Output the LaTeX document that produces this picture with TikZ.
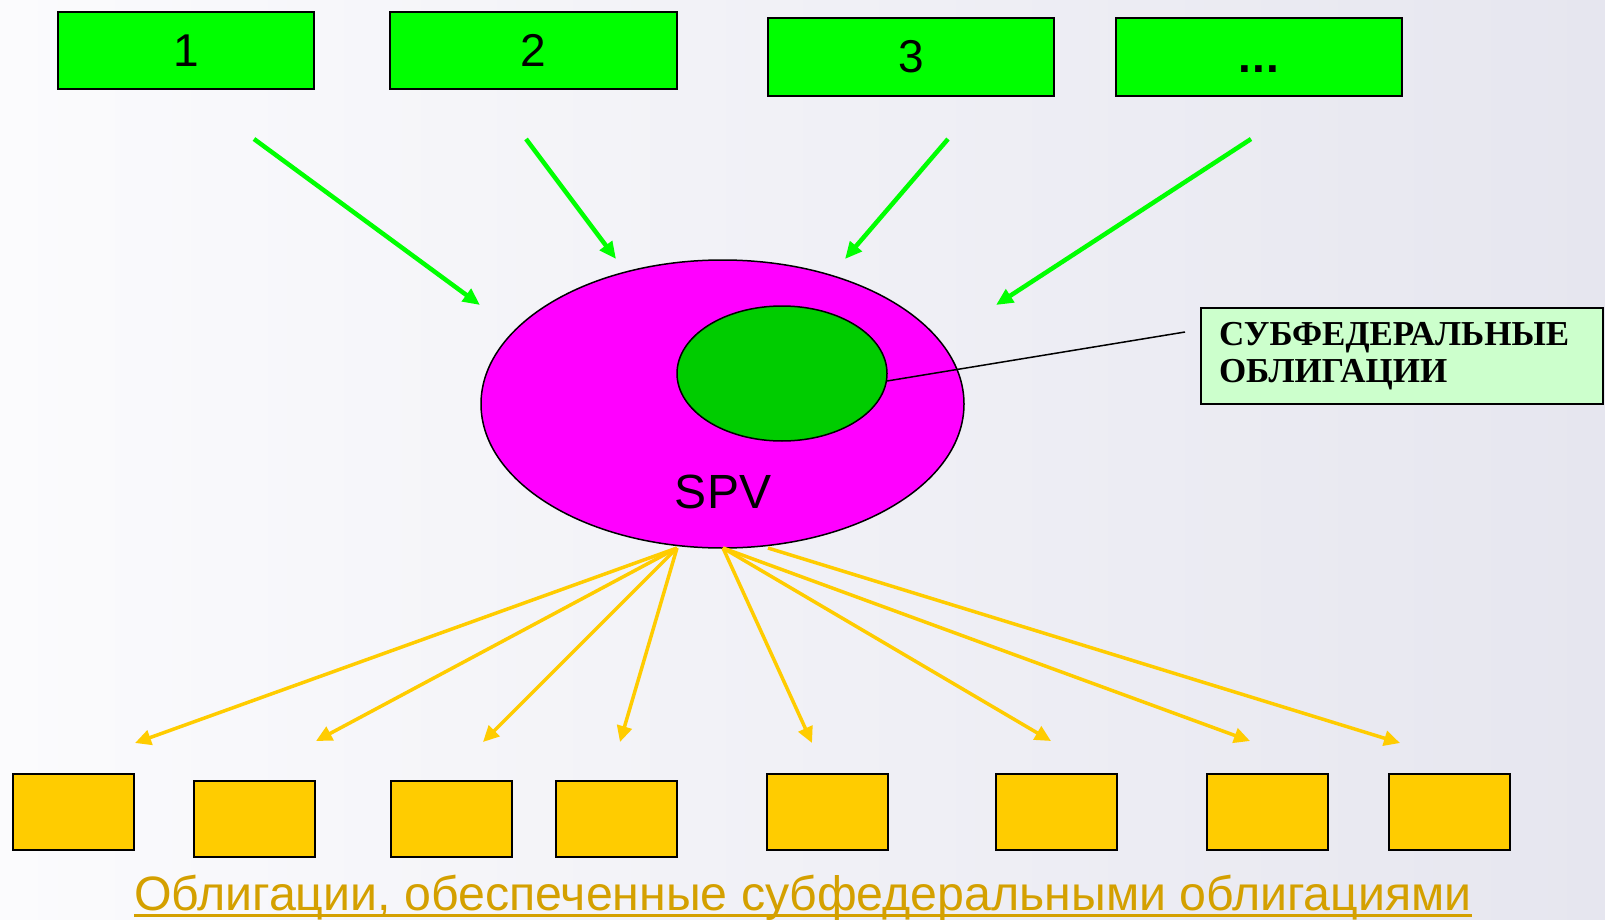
\documentclass[tikz,border=0pt]{standalone}
\usepackage{fontspec}
\setmainfont{Liberation Sans}
\newfontfamily\labelfont{Liberation Serif}
\usetikzlibrary{arrows.meta,shapes.geometric}
\definecolor{topgreen}{HTML}{00FF00}
\definecolor{innergreen}{HTML}{00CC00}
\definecolor{spvmag}{HTML}{FF00FF}
\definecolor{labelgreen}{HTML}{CCFFCC}
\definecolor{boxyellow}{HTML}{FFCC00}
\definecolor{arrowyellow}{HTML}{FFCC00}
\definecolor{captiongold}{HTML}{D4A000}
\definecolor{bgA}{HTML}{FBFBFD}
\definecolor{bgB}{HTML}{E6E6EF}
\tikzset{
  topbox/.style={draw=black, line width=2pt, fill=topgreen, inner sep=0pt,
    font=\fontsize{46}{50}\selectfont},
  botbox/.style={draw=black, line width=2pt, fill=boxyellow, inner sep=0pt,
    minimum width=121pt, minimum height=76pt},
  greenarrow/.style={draw=topgreen, line width=4.5pt, -{Triangle[length=17pt,width=15pt]}},
  yellowarrow/.style={draw=arrowyellow, line width=3.5pt, -{Triangle[length=16pt,width=15pt]}},
}
\begin{document}
\begin{tikzpicture}[x=1pt,y=-1pt]
\useasboundingbox (0,0) rectangle (1605,920);
\shade[left color=bgA, right color=bgB] (0,0) rectangle (1605,920);

% top boxes
\node[topbox, minimum width=256pt, minimum height=77pt] (t1) at (186,50.5) {1};
\node[topbox, minimum width=287pt, minimum height=77pt] (t2) at (533.5,50.5) {2};
\node[topbox, minimum width=286pt, minimum height=78pt] (t3) at (911,57) {3};
\node[topbox, minimum width=286pt, minimum height=78pt] (t4) at (1259,57) {\vphantom{3}\textbf{.\kern1pt.\kern1pt.}};

% SPV ellipse
\node[ellipse, draw=black, line width=1.5pt, fill=spvmag, inner sep=0pt,
      minimum width=483pt, minimum height=288pt] (spv) at (722.5,404) {};
\node[ellipse, draw=black, line width=1.5pt, fill=innergreen, inner sep=0pt,
      minimum width=210pt, minimum height=135pt] (inner) at (782,373.5) {};
\node[anchor=base, inner sep=0pt, font=\fontsize{48}{52}\selectfont] (spvtext) at (723,508) {SPV};

% label box
\node[draw=black, line width=1.5pt, fill=labelgreen, minimum width=402pt, minimum height=96pt,
      text width=366pt, align=left, inner xsep=18pt, inner ysep=0pt,
      font=\labelfont\bfseries\fontsize{35}{37}\selectfont] (label) at (1402,356)
      {СУБФЕДЕРАЛЬНЫЕ\\ОБЛИГАЦИИ};
\coordinate (lnA) at (887,381);
\coordinate (lnB) at (1185,332);
\draw[black, line width=1.5pt] (lnA) -- (lnB);

% green arrows
\coordinate (g1s) at (254,139); \coordinate (g1e) at (480,305);
\coordinate (g2s) at (526,139); \coordinate (g2e) at (616,259);
\coordinate (g3s) at (948,139); \coordinate (g3e) at (845,259);
\coordinate (g4s) at (1251,139); \coordinate (g4e) at (996,305);
\draw[greenarrow] (g1s) -- (g1e);
\draw[greenarrow] (g2s) -- (g2e);
\draw[greenarrow] (g3s) -- (g3e);
\draw[greenarrow] (g4s) -- (g4e);

% yellow arrows
\coordinate (sA) at (677,548);
\coordinate (sB) at (723,548);
\coordinate (sC) at (768,548);
\coordinate (y1) at (135,743);
\coordinate (y2) at (316,741);
\coordinate (y3) at (483,742);
\coordinate (y4) at (620,742);
\coordinate (y5) at (812,743);
\coordinate (y6) at (1051,741);
\coordinate (y7) at (1250,741);
\coordinate (y8) at (1400,743);
\draw[yellowarrow] (sA) -- (y1);
\draw[yellowarrow] (sA) -- (y2);
\draw[yellowarrow] (sA) -- (y3);
\draw[yellowarrow] (sA) -- (y4);
\draw[yellowarrow] (sB) -- (y5);
\draw[yellowarrow] (sB) -- (y6);
\draw[yellowarrow] (sB) -- (y7);
\draw[yellowarrow] (sC) -- (y8);

% bottom boxes
\node[botbox] (b1) at (73.5,812) {};
\node[botbox] (b2) at (254,819) {};
\node[botbox] (b3) at (451,819) {};
\node[botbox] (b4) at (616.5,819) {};
\node[botbox] (b5) at (827.5,811.5) {};
\node[botbox] (b6) at (1056,811.5) {};
\node[botbox] (b7) at (1267.5,811.5) {};
\node[botbox] (b8) at (1449,811.5) {};

% caption
\node[anchor=base west, inner sep=0pt, text=captiongold, font=\fontsize{48.3}{52}\selectfont]
  (caption) at (134,910) {Облигации, обеспеченные субфедеральными облигациями};
\draw[captiongold, line width=3pt] ([yshift=-5pt]caption.base west) -- ([yshift=-5pt]caption.base east);
\end{tikzpicture}
\end{document}
